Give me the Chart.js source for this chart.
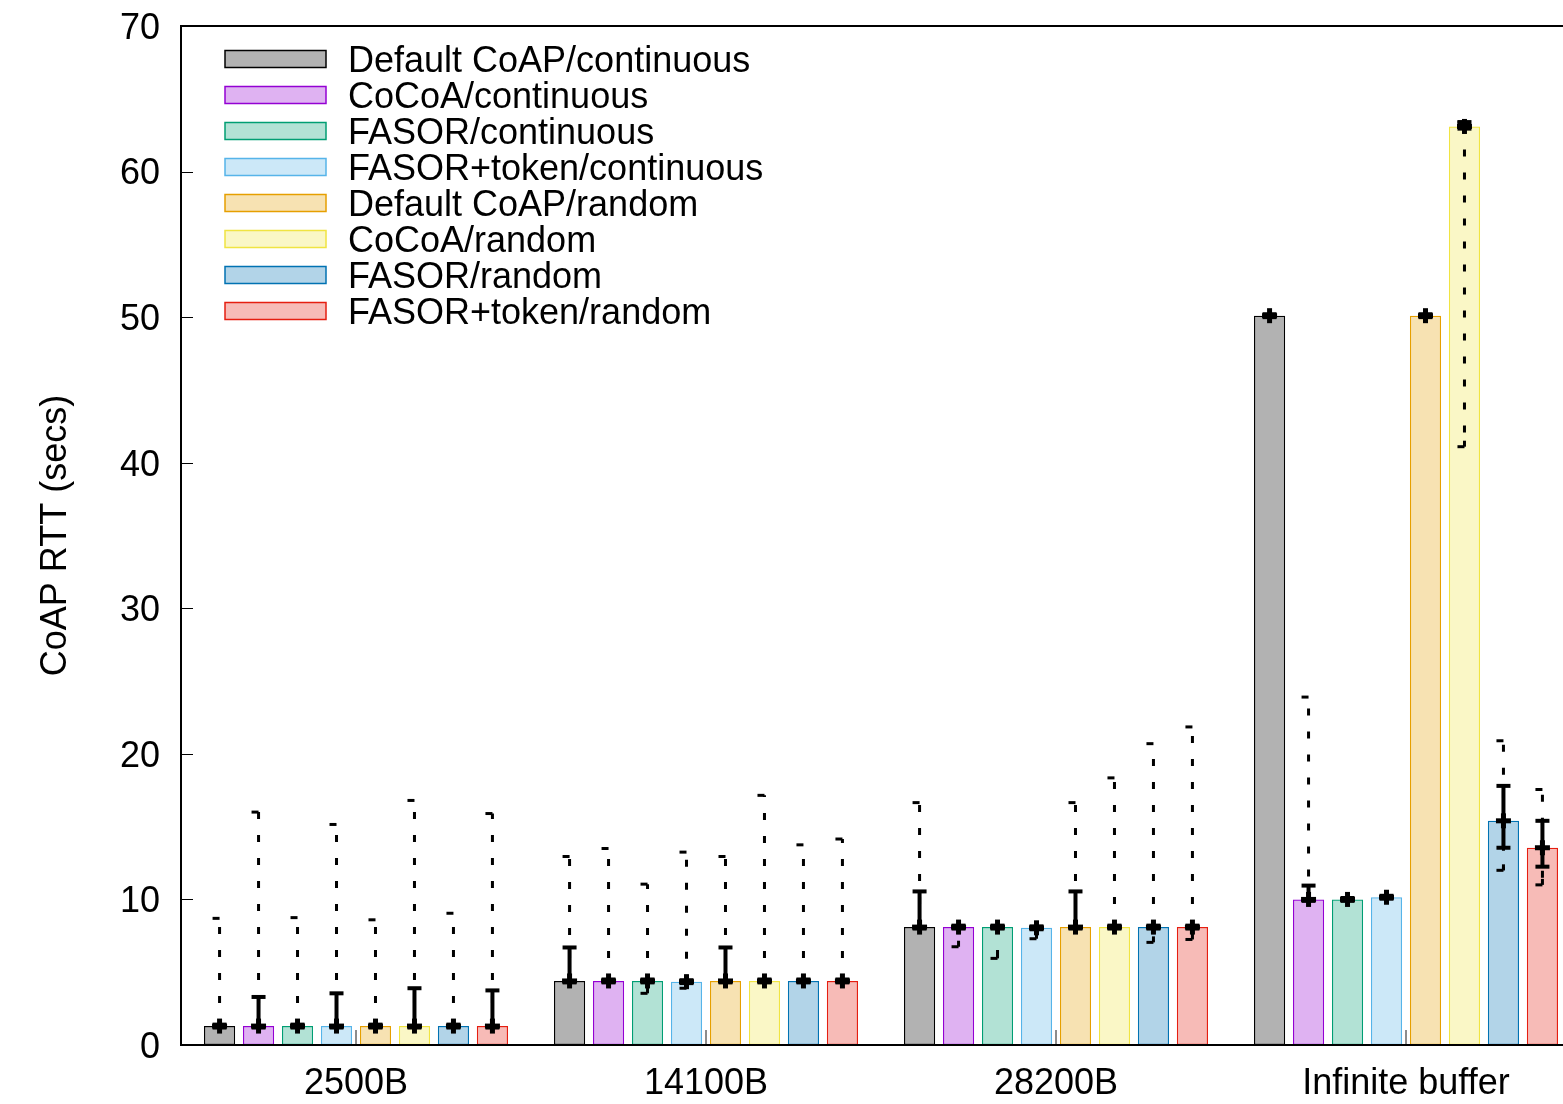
<!DOCTYPE html>
<html>
<head>
<meta charset="utf-8">
<script src="https://cdn.jsdelivr.net/npm/chart.js@4.4.1/dist/chart.umd.min.js"></script>
<style>
  html, body { margin: 0; padding: 0; background: #fff; overflow: hidden; }
  #wrap { width: 1600px; height: 1104px; }
</style>
</head>
<body>
<div id="wrap"><canvas id="rtt-chart"></canvas></div>
<script>
const categories = ['2500B', '14100B', '28200B', 'Infinite buffer'];
const seriesNames = [
    'Default CoAP/continuous',
    'CoCoA/continuous',
    'FASOR/continuous',
    'FASOR+token/continuous',
    'Default CoAP/random',
    'CoCoA/random',
    'FASOR/random',
    'FASOR+token/random'
];
const yTicks = [0, 10, 20, 30, 40, 50, 60, 70];

// bar height = median RTT (secs), one row per series
const medianRtt = [
    [1.3, 4.4, 8.1, 50.1],
    [1.3, 4.4, 8.1, 10.0],
    [1.3, 4.4, 8.1, 10.0],
    [1.3, 4.35, 8.05, 10.15],
    [1.3, 4.4, 8.1, 50.1],
    [1.3, 4.4, 8.1, 63.1],
    [1.3, 4.4, 8.1, 15.4],
    [1.3, 4.4, 8.1, 13.55]
];
// solid error bar (quartiles)
const q1Rtt = [
    [1.2, 4.3, 8.0, 50.0],
    [1.2, 4.3, 8.0, 9.9],
    [1.2, 4.3, 8.0, 9.9],
    [1.2, 4.25, 7.95, 10.05],
    [1.2, 4.3, 8.0, 50.0],
    [1.2, 4.3, 8.0, 62.95],
    [1.2, 4.3, 8.0, 13.55],
    [1.2, 4.3, 8.0, 12.25]
];
const q3Rtt = [
    [1.4, 6.7, 10.55, 50.2],
    [3.3, 4.5, 8.2, 10.95],
    [1.4, 4.5, 8.2, 10.1],
    [3.55, 4.45, 8.15, 10.25],
    [1.4, 6.7, 10.55, 50.2],
    [3.9, 4.5, 8.2, 63.4],
    [1.4, 4.5, 8.2, 17.8],
    [3.75, 4.5, 8.2, 15.4]
];
// dotted whiskers (min / max)
const minRtt = [
    [1.2, 4.3, 8.0, 50.0],
    [1.2, 4.3, 6.75, 9.9],
    [1.2, 3.55, 5.95, 9.9],
    [1.2, 3.9, 7.3, 10.0],
    [1.2, 4.3, 8.0, 50.0],
    [1.2, 4.3, 8.0, 41.1],
    [1.2, 4.3, 7.05, 12.0],
    [1.2, 4.3, 7.25, 11.0]
];
const maxRtt = [
    [8.7, 12.95, 16.65, 50.2],
    [16.0, 13.5, 8.2, 23.9],
    [8.75, 11.05, 8.2, 10.1],
    [15.15, 13.25, 8.15, 10.25],
    [8.6, 12.95, 16.65, 50.2],
    [16.8, 17.15, 18.35, 63.4],
    [9.05, 13.75, 20.7, 20.9],
    [15.9, 14.15, 21.85, 17.55]
];

const lineColors = ['#000000', '#9400d3', '#009e73', '#56b4e9', '#e69f00', '#f0e442', '#0072b2', '#e51e10'];
const hexToFill = (hex) => {
    const n = parseInt(hex.slice(1), 16);
    return `rgba(${(n >> 16) & 255}, ${(n >> 8) & 255}, ${n & 255}, 0.3)`;
};
const FONT = "'Liberation Sans', Arial, sans-serif";
const FSIZE = 36;

// frame, inward ticks
const frame = {
    id: 'frame',
    afterDatasetsDraw(chart) {
        const { ctx, chartArea: a, scales: { x, y } } = chart;
        ctx.save();
        ctx.strokeStyle = '#000';
        ctx.lineWidth = 1;
        y.ticks.forEach(t => {
            const py = Math.round(y.getPixelForValue(t.value)) + 0.5;
            ctx.beginPath();
            ctx.moveTo(a.left, py);
            ctx.lineTo(a.left + 12, py);
            ctx.moveTo(a.right, py);
            ctx.lineTo(a.right - 12, py);
            ctx.stroke();
        });
        ctx.strokeStyle = '#666';
        ctx.lineWidth = 1.5;
        categories.forEach((c, i) => {
            const px = x.getPixelForTick(i);
            ctx.beginPath();
            ctx.moveTo(px, a.bottom);
            ctx.lineTo(px, a.bottom - 15);
            ctx.stroke();
        });
        ctx.strokeStyle = '#000';
        ctx.lineWidth = 2;
        ctx.strokeRect(a.left, a.top, a.right - a.left, a.bottom - a.top);
        ctx.restore();
    }
};

const errorBars = {
    id: 'errorBars',
    afterDatasetsDraw(chart) {
        const { ctx, scales: { y } } = chart;
        const seg = (x1, y1, x2, y2) => {
            ctx.beginPath();
            ctx.moveTo(x1, y1);
            ctx.lineTo(x2, y2);
            ctx.stroke();
        };
        ctx.save();
        ctx.strokeStyle = '#000';
        ctx.lineCap = 'butt';
        chart.data.datasets.forEach((ds, si) => {
            chart.getDatasetMeta(si).data.forEach((bar, ci) => {
                const x = bar.x;
                const yMed = y.getPixelForValue(medianRtt[si][ci]);
                const yMin = y.getPixelForValue(minRtt[si][ci]);
                const yMax = y.getPixelForValue(maxRtt[si][ci]);
                const yLo = y.getPixelForValue(q1Rtt[si][ci]);
                const yHi = y.getPixelForValue(q3Rtt[si][ci]);

                // dotted min/max whiskers
                ctx.lineWidth = 3;
                ctx.setLineDash([7, 16]);
                if (yMed - yMax > 4) seg(x, yMed, x, yMax);
                if (yMin - yMed > 4) seg(x, yMed, x, yMin);
                ctx.setLineDash([]);
                if (yMed - yMax > 4) seg(x - 7, yMax, x, yMax);
                if (yMin - yMed > 4) {
                    seg(x - 7, yMin, x, yMin);
                    seg(x, yMin, x, yMin - 6);
                }

                // solid quartile bar
                ctx.lineWidth = 4;
                seg(x, yLo, x, yHi);
                seg(x - 7, yLo, x + 7, yLo);
                seg(x - 7, yHi, x + 7, yHi);

                // median cross
                ctx.lineWidth = 5;
                seg(x - 7.5, yMed, x + 7.5, yMed);
                seg(x, yMed - 7.5, x, yMed + 7.5);
            });
        });
        ctx.restore();
    }
};

const keyBox = {
    id: 'keyBox',
    afterDraw(chart) {
        const { ctx } = chart;
        ctx.save();
        ctx.font = `${FSIZE}px ${FONT}`;
        ctx.textBaseline = 'middle';
        chart.data.datasets.forEach((ds, i) => {
            const cy = 59 + i * 36;
            ctx.fillStyle = ds.backgroundColor;
            ctx.fillRect(225, cy - 8.5, 101, 17);
            ctx.strokeStyle = ds.borderColor;
            ctx.lineWidth = 1.5;
            ctx.strokeRect(225, cy - 8.5, 101, 17);
            ctx.fillStyle = '#000';
            ctx.fillText(ds.label, 348, cy + 3);
        });
        ctx.restore();
    }
};

const ctx = document.getElementById('rtt-chart').getContext('2d');
new Chart(ctx, {
    type: 'bar',
    data: {
        labels: categories,
        datasets: seriesNames.map((name, i) => ({
            label: name,
            data: medianRtt[i],
            backgroundColor: hexToFill(lineColors[i]),
            borderColor: lineColors[i],
            borderWidth: 1.2,
            borderSkipped: false,
            categoryPercentage: 0.891,
            barPercentage: 0.8
        }))
    },
    options: {
        responsive: true,
        maintainAspectRatio: false,
        animation: false,
        layout: { padding: { top: 26, right: 19, left: 0, bottom: 0 } },
        scales: {
            x: {
                grid: { display: false, drawTicks: false },
                border: { display: false },
                ticks: { color: '#000', font: { family: FONT, size: FSIZE }, padding: 17 },
                afterFit(scale) {
                    scale.height = 59;
                    scale.paddingLeft = 0;
                    scale.paddingRight = 0;
                }
            },
            y: {
                min: 0,
                max: 70,
                afterBuildTicks(scale) { scale.ticks = yTicks.map(v => ({ value: v })); },
                grid: { display: false, drawTicks: false },
                border: { display: false },
                ticks: { color: '#000', font: { family: FONT, size: FSIZE }, padding: 21, labelOffset: 3 },
                title: {
                    display: true,
                    text: 'CoAP RTT (secs)',
                    color: '#000',
                    font: { family: FONT, size: FSIZE },
                    padding: { top: 34, bottom: 0 }
                },
                afterFit(scale) {
                    scale.width = 181;
                    scale.paddingTop = 0;
                    scale.paddingBottom = 0;
                }
            }
        },
        plugins: {
            legend: { display: false },
            tooltip: { enabled: false }
        }
    },
    plugins: [frame, errorBars, keyBox]
});
</script>
</body>
</html>
